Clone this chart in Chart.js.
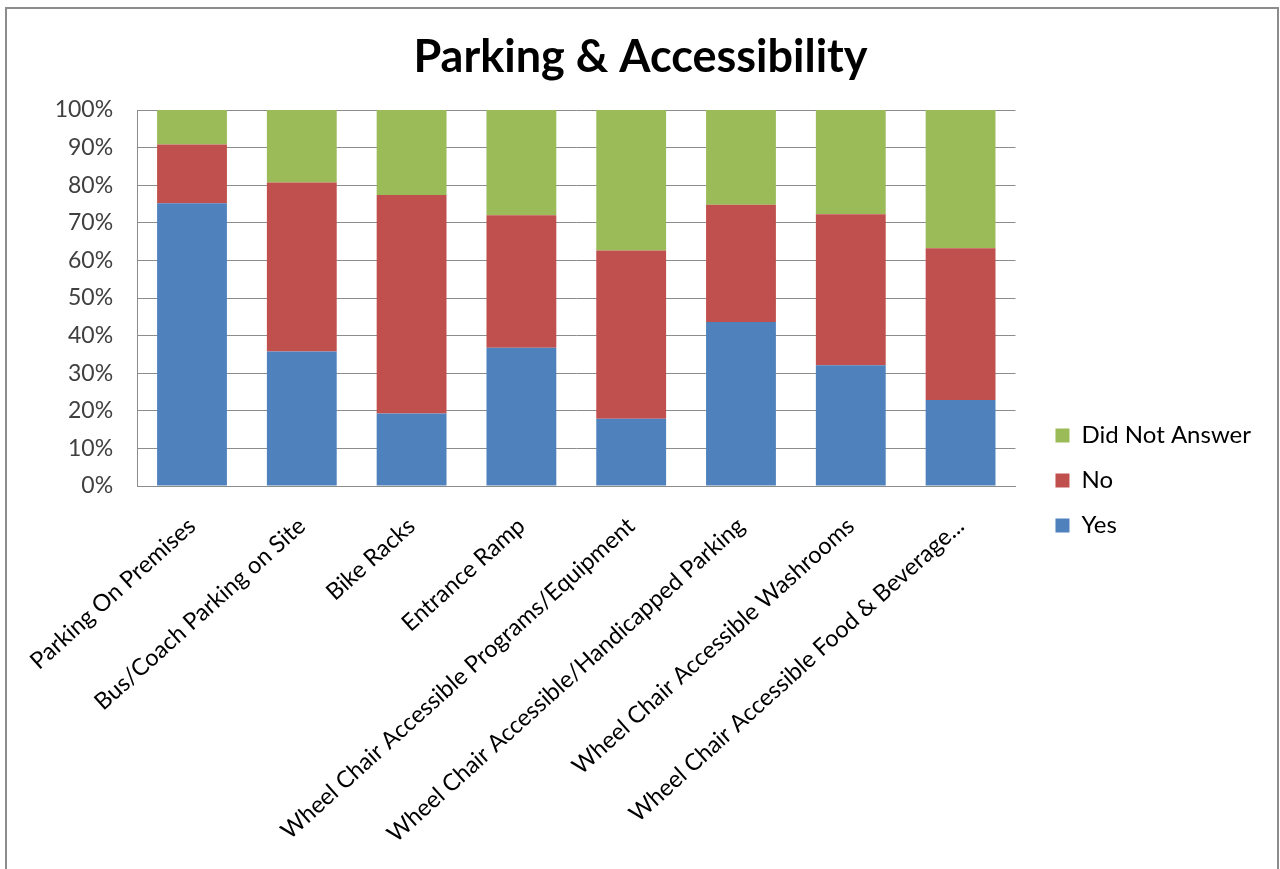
<!DOCTYPE html>
<html>
<head>
<meta charset="utf-8">
<script src="https://cdn.jsdelivr.net/npm/chart.js@4/dist/chart.umd.min.js"></script>
<style>
  html, body { margin: 0; padding: 0; background: #fff; overflow: hidden; }
  #wrap { position: absolute; left: 5px; top: 7px; width: 1274px; height: 900px; border: 2px solid #8c8c8c; box-sizing: border-box; }
  #c { position: absolute; left: 0; top: 0; }
</style>
</head>
<body>
<div id="wrap"></div>
<canvas id="c" width="1280" height="869"></canvas>
<script>
const categories = [
  "Parking On Premises",
  "Bus/Coach Parking on Site",
  "Bike Racks",
  "Entrance Ramp",
  "Wheel Chair Accessible Programs/Equipment",
  "Wheel Chair Accessible/Handicapped Parking",
  "Wheel Chair Accessible Washrooms",
  "Wheel Chair Accessible Food & Beverage..."
];
const yesValues = [75.2, 35.8, 19.3, 36.8, 17.9, 43.6, 32.1, 22.9];
const noValues  = [15.6, 44.9, 58.1, 35.2, 44.7, 31.2, 40.2, 40.3];
const didNotAnswerValues = [9.2, 19.3, 22.6, 28.0, 37.4, 25.2, 27.7, 36.8];
const yTicks = [0, 10, 20, 30, 40, 50, 60, 70, 80, 90, 100];

const FONT = "Lato, 'Open Sans', sans-serif";

new Chart(document.getElementById('c'), {
  type: 'bar',
  data: {
    labels: categories,
    datasets: [
      { label: 'Yes', data: yesValues, backgroundColor: '#4F81BD' },
      { label: 'No', data: noValues, backgroundColor: '#C0504D' },
      { label: 'Did Not Answer', data: didNotAnswerValues, backgroundColor: '#9BBB59' }
    ]
  },
  options: {
    responsive: false,
    animation: false,
    layout: { padding: { left: 20, right: 19, top: 0, bottom: 0 } },
    datasets: { bar: { categoryPercentage: 1.0, barPercentage: 0.636 } },
    plugins: {
      title: {
        display: true,
        text: 'Parking & Accessibility',
        color: '#000',
        font: { family: FONT, size: 45, weight: 'bold' },
        padding: { top: 30, bottom: 26 }
      },
      legend: {
        position: 'right',
        reverse: true,
        maxWidth: 400,
        title: { display: true, text: ' ', font: { size: 10 }, padding: 40 },
        labels: {
          color: '#000',
          font: { family: FONT, size: 24 },
          boxWidth: 14,
          boxHeight: 14,
          padding: 21
        }
      },
      tooltip: { enabled: false }
    },
    scales: {
      x: {
        stacked: true,
        grid: { display: false, drawTicks: false },
        border: { color: '#8c8c8c' },
        ticks: {
          color: '#000',
          font: { family: FONT, size: 23.5 },
          maxRotation: 42, minRotation: 42,
          autoSkip: false,
          padding: 26
        },
        afterFit: (s) => { s.height = 383; }
      },
      y: {
        stacked: true,
        min: 0, max: 100,
        afterBuildTicks: (s) => { s.ticks = yTicks.map(v => ({ value: v })); },
        grid: { color: '#8c8c8c', drawTicks: false },
        border: { color: '#8c8c8c' },
        ticks: {
          color: '#404040',
          font: { family: FONT, size: 23 },
          padding: 24,
          callback: (v) => v + '%'
        },
        afterFit: (s) => { s.width = 107; }
      },
      yRightGap: {
        position: 'right',
        display: true,
        min: 0, max: 100,
        grid: { display: false, drawTicks: false },
        border: { display: false },
        ticks: { display: false },
        afterFit: (s) => { s.width = 19; }
      }
    }
  }
});
</script>
</body>
</html>
